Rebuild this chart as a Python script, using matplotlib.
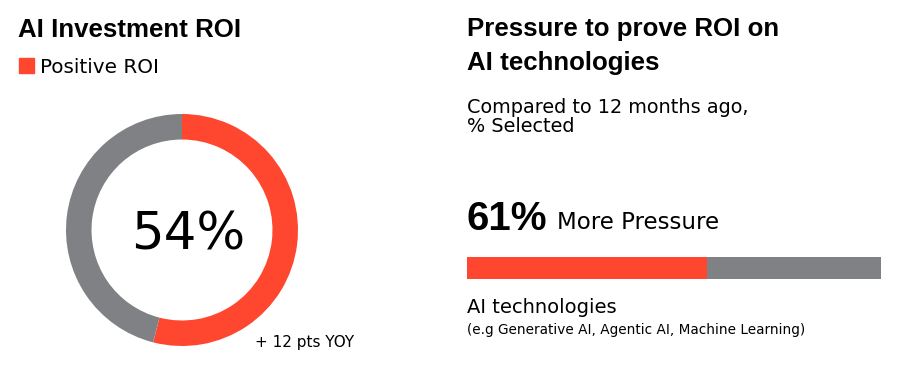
import matplotlib
matplotlib.use("Agg")
import matplotlib.pyplot as plt
from matplotlib.patches import Rectangle

plt.rcParams['font.family'] = ['DejaVu Sans']
HEAD = 'Liberation Sans'

# data
roi_labels = ["Positive ROI", "Other"]
roi_values = [54, 46]
roi_change = "+ 12 pts YOY"

pressure_label = "61%"
pressure_bar = [58, 42]   # red / grey share as drawn
pressure_category = "AI technologies"
pressure_note = "(e.g Generative AI, Agentic AI, Machine Learning)"

RED = "#ff462e"
GREY = "#808184"
W, H = 900, 366


def px(x, y):
    # pixel coords from top-left -> figure fraction
    return x / W, 1 - y / H


fig = plt.figure(figsize=(9, 3.66), dpi=100)

# left panel: donut
fig.text(*px(18, 37), "AI Investment ROI", family=HEAD, fontsize=18.6, fontweight='bold', va='baseline')
fig.patches.append(Rectangle(px(19, 73), 15 / W, 15 / H, color=RED, transform=fig.transFigure))
fig.text(*px(40, 73), roi_labels[0], fontsize=14.4, va='baseline')

ax = fig.add_axes([66 / W, 1 - 346 / H, 232 / W, 232 / H])
ax.pie(roi_values, colors=[RED, GREY], startangle=90, counterclock=False,
       wedgeprops=dict(width=0.22, linewidth=0))
ax.set_aspect('equal')
ax.set_xlim(-1, 1)
ax.set_ylim(-1, 1)
ax.axis('off')
fig.text(*px(188, 249), f"{roi_values[0]}%", fontsize=37, ha='center', va='baseline')
fig.text(*px(255, 347), roi_change, fontsize=11, va='baseline')

# right panel: bar
fig.text(*px(467, 36), "Pressure to prove ROI on", family=HEAD, fontsize=18.6, fontweight='bold', va='baseline')
fig.text(*px(467, 70), "AI technologies", family=HEAD, fontsize=18.6, fontweight='bold', va='baseline')
fig.text(*px(467, 113), "Compared to 12 months ago,", fontsize=13.9, va='baseline')
fig.text(*px(467, 132), "% Selected", fontsize=13.9, va='baseline')

fig.text(*px(467, 230), pressure_label, family=HEAD, fontsize=29, fontweight='bold', va='baseline')
fig.text(*px(557, 229), "More Pressure", fontsize=16.5, va='baseline')

bx = fig.add_axes([467 / W, 1 - 279 / H, 414 / W, 22 / H])
bx.barh([0], [pressure_bar[0]], color=RED, height=1, linewidth=0)
bx.barh([0], [pressure_bar[1]], left=[pressure_bar[0]], color=GREY, height=1, linewidth=0)
bx.set_xlim(0, sum(pressure_bar))
bx.set_ylim(-0.5, 0.5)
bx.axis('off')

fig.text(*px(467, 313), pressure_category, fontsize=14, va='baseline')
fig.text(*px(467, 334), pressure_note, fontsize=9.8, va='baseline')

fig.savefig("out.png", dpi=100, facecolor='white')
